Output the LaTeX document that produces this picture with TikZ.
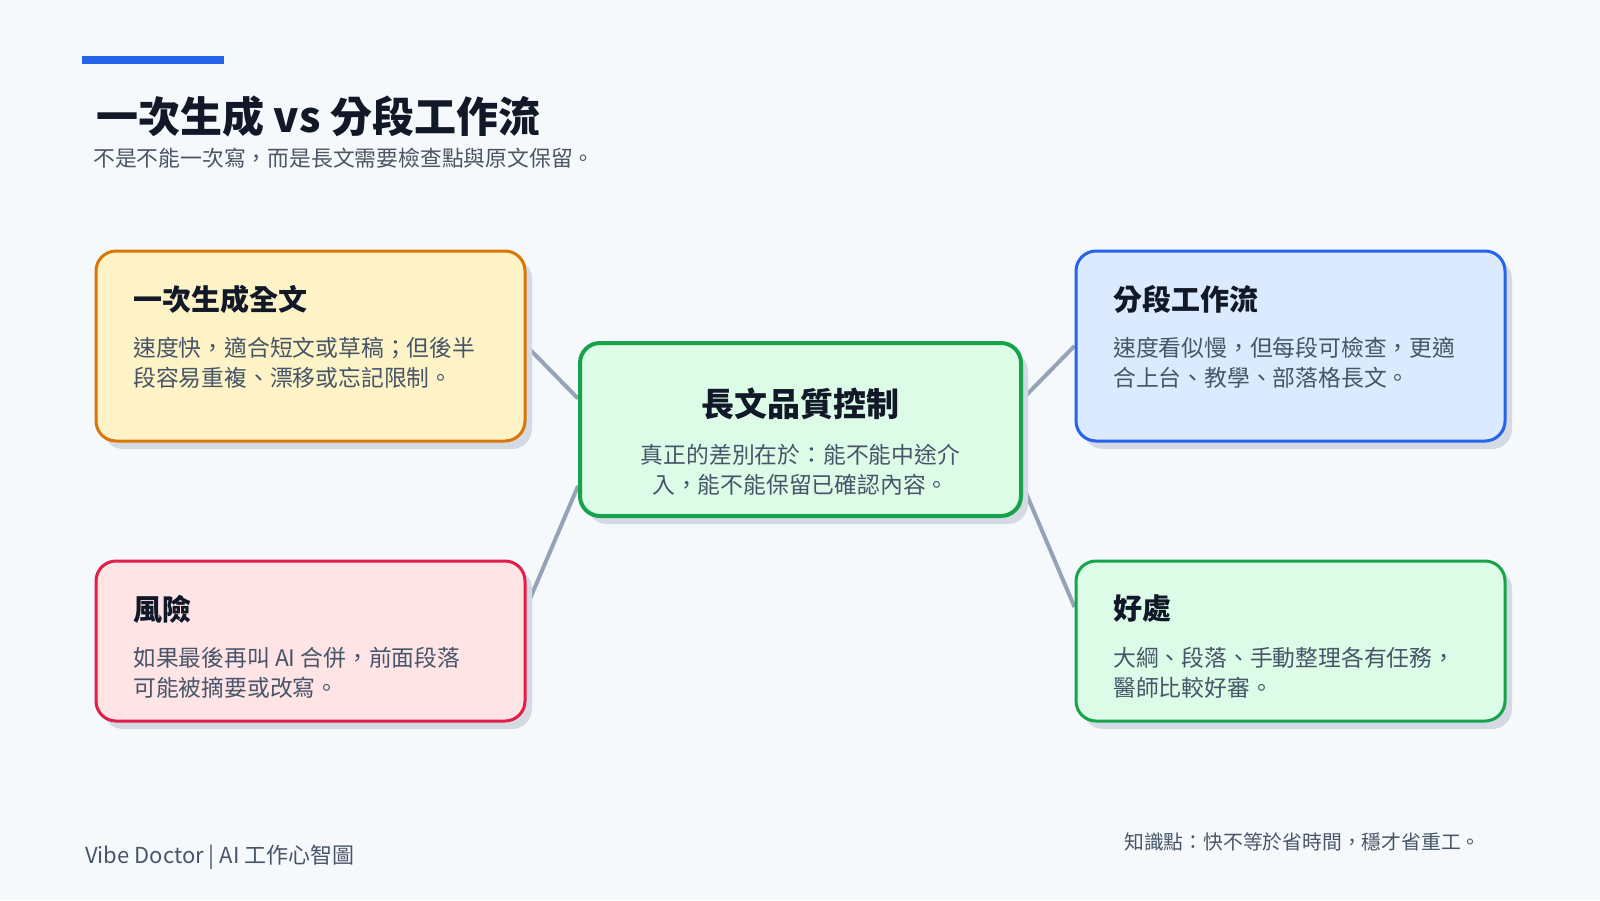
\documentclass[tikz,border=0pt]{standalone}
\usepackage{fontspec}
\setmainfont{Noto Sans CJK TC}
\usetikzlibrary{shadows,calc}
\definecolor{bgc}{HTML}{F6F9FC}
\definecolor{barc}{HTML}{2563EB}
\definecolor{titlec}{HTML}{111827}
\definecolor{subc}{HTML}{4B5563}
\definecolor{bodyc}{HTML}{475569}
\definecolor{linkc}{HTML}{94A3B8}
\definecolor{shadowc}{HTML}{D3DAE4}
\definecolor{orfill}{HTML}{FEF3C7}
\definecolor{ordraw}{HTML}{D97706}
\definecolor{grfill}{HTML}{DCFCE7}
\definecolor{grdraw}{HTML}{16A34A}
\definecolor{blfill}{HTML}{DBEAFE}
\definecolor{bldraw}{HTML}{2563EB}
\definecolor{rdfill}{HTML}{FFE4E6}
\definecolor{rddraw}{HTML}{E11D48}
\pgfdeclarelayer{bg}
\pgfsetlayers{bg,main}
\begin{document}
\begin{tikzpicture}[x=1pt,y=-1pt,
  card/.style={rounded corners=20pt, line width=3pt, minimum width=429pt, inner sep=0pt,
    drop shadow={shadow xshift=7pt, shadow yshift=-8pt, fill=shadowc, opacity=1}},
  cardtitle/.style={font=\fontsize{29}{34}\selectfont\bfseries, text=titlec, inner sep=0pt, anchor=west},
  cardbody/.style={font=\fontsize{22.8}{30}\selectfont, text=bodyc, inner sep=0pt, align=left, anchor=west},
  link/.style={draw=linkc, line width=4pt},
  foot/.style={text=bodyc, inner sep=0pt, anchor=west}
]
\useasboundingbox (0,0) rectangle (1600,900);
\begin{pgfonlayer}{bg}
  \fill[bgc] (0,0) rectangle (1600,900);
\end{pgfonlayer}

% header
\fill[barc] (82,56) rectangle (224,64);
\node[font=\fontsize{42}{50}\selectfont\bfseries, text=titlec, inner sep=0pt, anchor=west] (title) at (96,116) {一次生成 vs 分段工作流};
\node[font=\fontsize{21.8}{26}\selectfont, text=subc, inner sep=0pt, anchor=west] (subtitle) at (93,158) {不是不能一次寫，而是長文需要檢查點與原文保留。};

% cards
\node[card, draw=ordraw, fill=orfill, minimum height=190pt] (b1) at (310.5,346) {};
\node[card, draw=bldraw, fill=blfill, minimum height=190pt] (b2) at (1290.5,346) {};
\node[card, draw=rddraw, fill=rdfill, minimum height=160pt] (b3) at (310.5,641) {};
\node[card, draw=grdraw, fill=grfill, minimum height=160pt] (b4) at (1290.5,641) {};
\node[card, draw=grdraw, fill=grfill, line width=4pt, minimum width=441pt, minimum height=173pt] (c) at (800.5,429.5) {};

% card texts
\node[cardtitle] (b1t) at (133,299) {一次生成全文};
\node[cardbody] (b1b) at (133,363) {速度快，適合短文或草稿；但後半\\段容易重複、漂移或忘記限制。};
\node[cardtitle] (b2t) at (1113,299) {分段工作流};
\node[cardbody] (b2b) at (1113,363) {速度看似慢，但每段可檢查，更適\\合上台、教學、部落格長文。};
\node[cardtitle] (b3t) at (133,609) {風險};
\node[cardbody] (b3b) at (133,673) {如果最後再叫 AI 合併，前面段落\\可能被摘要或改寫。};
\node[cardtitle] (b4t) at (1113,609) {好處};
\node[cardbody] (b4b) at (1113,673) {大綱、段落、手動整理各有任務，\\醫師比較好審。};
\node[font=\fontsize{33}{38}\selectfont\bfseries, text=titlec, inner sep=0pt] (ct) at (800.5,404) {長文品質控制};
\node[font=\fontsize{22.8}{30}\selectfont, text=bodyc, inner sep=0pt, align=center] (cb) at (800.5,470) {真正的差別在於：能不能中途介\\入，能不能保留已確認內容。};

% connectors (behind cards)
\coordinate (c1) at ($(c.west)+(0,-31)$);
\coordinate (c2) at ($(c.west)+(0,56.5)$);
\coordinate (c3) at ($(c.east)+(0,-31)$);
\coordinate (c4) at ($(c.east)+(0,56.5)$);
\coordinate (p3) at ($(b3.east)+(0,-34)$);
\coordinate (p4) at ($(b4.west)+(0,-34)$);
\begin{pgfonlayer}{bg}
  \draw[link] (b1.east) -- (c1);
  \draw[link] (p3) -- (c2);
  \draw[link] (b2.west) -- (c3);
  \draw[link] (p4) -- (c4);
\end{pgfonlayer}

% footer
\node[foot, font=\fontsize{22}{26}\selectfont] (footl) at (85,857) {Vibe Doctor | AI 工作心智圖};
\node[foot, font=\fontsize{19.8}{24}\selectfont] (footr) at (1124,842) {知識點：快不等於省時間，穩才省重工。};
\end{tikzpicture}
\end{document}
